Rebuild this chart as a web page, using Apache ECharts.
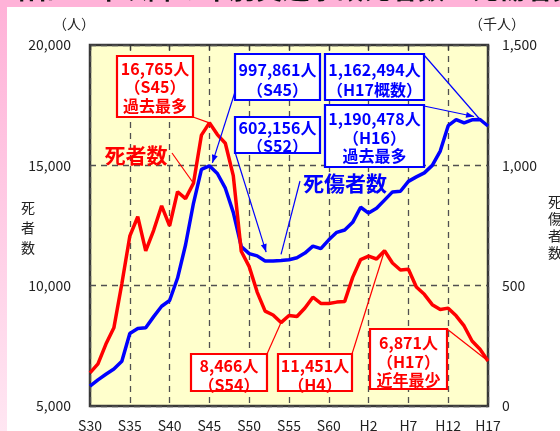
<!DOCTYPE html>
<html><head><meta charset="utf-8">
<script src="https://cdn.jsdelivr.net/npm/echarts@6/dist/echarts.min.js"></script>
<style>
html,body{margin:0;padding:0;width:560px;height:431px;overflow:hidden;}
#wrap{position:relative;width:560px;height:431px;background:#FFB2D8;}
#strip{position:absolute;left:0;top:7px;width:7px;bottom:0;background:linear-gradient(to bottom,#FFB2D8,#FFE6F2);}
#panel{position:absolute;left:7px;top:7px;right:0;bottom:0;background:#fff;}
#chart{position:absolute;left:0;top:0;width:560px;height:431px;}
</style></head>
<body><div id="wrap"><div id="strip"></div><div id="panel"></div><div id="chart"></div></div>
<script>
// ---- data ----
const years = ['S30','S31','S32','S33','S34','S35','S36','S37','S38','S39','S40','S41','S42','S43','S44','S45','S46','S47','S48','S49','S50','S51','S52','S53','S54','S55','S56','S57','S58','S59','S60','S61','S62','S63','H1','H2','H3','H4','H5','H6','H7','H8','H9','H10','H11','H12','H13','H14','H15','H16','H17'];
// 死者数 (人)
const deaths = [6379,6751,7575,8248,10079,12055,12865,11445,12301,13318,12484,13904,13618,14256,16257,16765,16278,15918,14574,11432,10792,9734,8945,8783,8466,8760,8719,9073,9520,9262,9261,9317,9347,10344,11086,11227,11109,11451,10942,10649,10684,9942,9640,9211,9006,9066,8747,8326,7702,7358,6871];
// 死傷者数 (千人)
const casualties = [82.9,108.8,132.1,153.7,186.0,301.2,321.6,325.3,371.4,414.4,438.2,531.7,669.0,842.3,983.3,997.9,966.0,905.1,804.5,662.9,633.3,623.7,602.2,602.9,604.7,607.5,616.1,635.3,664.3,653.6,690.6,721.6,731.5,763.2,825.9,801.5,821.4,855.5,889.6,892.4,933.4,952.1,968.6,999.9,1059.4,1164.8,1189.8,1176.4,1189.1,1190.5,1163.5];
const leftTicks = {min:5000, max:20000, step:5000};
const rightTicks = {min:0, max:1500, step:500};

const FONT = '"Noto Sans CJK JP", sans-serif';
const RED = '#FF0000', BLUE = '#0000FF';
const chart = echarts.init(document.getElementById('chart'), null, {renderer:'canvas'});
const fmt = v => Number(v).toLocaleString('en-US');

chart.setOption({
  animation:false,
  grid:{left:90,right:72,top:45,bottom:25,show:true,backgroundColor:'#FFFFCC',borderColor:'#383838',borderWidth:2.5,containLabel:false,outerBoundsMode:'none'},
  xAxis:[
    {type:'category',data:years,boundaryGap:false,position:'bottom',
     axisLine:{show:false},axisTick:{show:false},
     axisLabel:{interval:4,margin:13,fontSize:14,color:'#222',fontFamily:FONT},
     splitLine:{show:true,interval:4,lineStyle:{color:'#505050',width:1.3,type:[6,5]}}},
    {type:'category',data:years,boundaryGap:false,position:'top',
     axisLine:{show:false},axisTick:{show:true,inside:true,interval:4,length:5,lineStyle:{color:'#383838',width:1.3}},
     axisLabel:{show:false},splitLine:{show:false}}
  ],
  yAxis:[
    {type:'value',min:leftTicks.min,max:leftTicks.max,interval:leftTicks.step,position:'left',
     axisLine:{show:false},axisTick:{show:false},
     axisLabel:{formatter:fmt,margin:19,fontSize:14,color:'#222',fontFamily:FONT},
     splitLine:{show:true,lineStyle:{color:'#505050',width:1.3,type:[6,5]}}},
    {type:'value',min:rightTicks.min,max:rightTicks.max,interval:rightTicks.step,position:'right',
     axisLine:{show:false},axisTick:{show:false},
     axisLabel:{formatter:fmt,margin:14,fontSize:14,color:'#222',fontFamily:FONT},
     splitLine:{show:false}}
  ],
  series:[
    {name:'死傷者数',type:'line',data:casualties,xAxisIndex:0,yAxisIndex:1,showSymbol:false,
     lineStyle:{color:BLUE,width:3.5},itemStyle:{color:BLUE},z:2},
    {name:'死者数',type:'line',data:deaths,xAxisIndex:0,yAxisIndex:0,showSymbol:false,
     lineStyle:{color:RED,width:3.5},itemStyle:{color:RED},z:3}
  ]
});

// ---- annotations (layout) ----
const boxes = [
  {x:117,y:56,w:76,h:61,c:RED,lines:['16,765人','（S45）','過去最多'],ys:[69,87,106]},
  {x:235,y:54,w:85,h:46,c:BLUE,lines:['997,861人','（S45）'],ys:[70,90]},
  {x:235,y:117,w:85,h:36,c:BLUE,lines:['602,156人','（S52）'],ys:[128,146]},
  {x:325,y:54,w:99,h:46,c:BLUE,lines:['1,162,494人','（H17概数）'],ys:[70,90]},
  {x:325,y:105,w:99,h:62,c:BLUE,lines:['1,190,478人','（H16）','過去最多'],ys:[119,137.5,156]},
  {x:191,y:354,w:76,h:37,c:RED,lines:['8,466人','（S54）'],ys:[366,384.5]},
  {x:278,y:354,w:74,h:37,c:RED,lines:['11,451人','（H4）'],ys:[366,384.5]},
  {x:370,y:329,w:77,h:60,c:RED,lines:['6,871人','（H17）','近年最少'],ys:[343,361.5,380]}
];
// leader lines: from pixel start to a data point (axis 0 = deaths/left axis, 1 = casualties/right axis)
const leaders = [
  {from:[193,117],axis:0,i:15,c:RED},
  {from:[172,153],axis:0,i:13,c:RED},
  {from:[235,92],axis:1,i:15,c:BLUE,arrow:true,off:[3,-3]},
  {from:[235,152],axis:1,i:22,c:BLUE,arrow:true,off:[1,-9]},
  {from:[424,55],axis:1,i:49,c:BLUE},
  {from:[424,106],axis:1,i:49,c:BLUE,arrow:true,off:[-6,-3]},
  {from:[300,181],axis:1,i:24,c:BLUE,off:[0,-6]},
  {from:[267,354],axis:0,i:24,c:RED},
  {from:[352,354],axis:0,i:37,c:RED},
  {from:[447,329],axis:0,i:50,c:RED}
];

const g = [];
g.push({type:'text',z:50,style:{text:'昭和30年以降の年別交通事故死者数・死傷者数の推移（交通事故死傷）',x:8,y:-25,font:'bold 27px '+FONT,fill:'#111',textVerticalAlign:'top'}});
g.push({type:'rect',z:49,shape:{x:7,y:7,width:553,height:6},style:{fill:'#fff'}});
g.push({type:'text',z:50,style:{text:'（人）',x:74,y:24,font:'14px '+FONT,fill:'#222',textAlign:'center',textVerticalAlign:'middle'}});
g.push({type:'text',z:50,style:{text:'（千人）',x:497,y:24,font:'14px '+FONT,fill:'#222',textAlign:'center',textVerticalAlign:'middle'}});
g.push({type:'text',z:50,style:{text:'死\n者\n数',x:28,y:228,font:'14px '+FONT,lineHeight:20,fill:'#222',textAlign:'center',textVerticalAlign:'middle'}});
g.push({type:'text',z:50,style:{text:'死\n傷\n者\n数',x:555,y:227,font:'14px '+FONT,lineHeight:17,fill:'#222',textAlign:'center',textVerticalAlign:'middle'}});
g.push({type:'text',z:50,style:{text:'死者数',x:136,y:155,font:'bold 21px '+FONT,fill:RED,textAlign:'center',textVerticalAlign:'middle'}});
g.push({type:'text',z:50,style:{text:'死傷者数',x:345,y:183,font:'bold 21px '+FONT,fill:BLUE,textAlign:'center',textVerticalAlign:'middle'}});

leaders.forEach(L => {
  const val = L.axis === 0 ? deaths[L.i] : casualties[L.i];
  const p = chart.convertToPixel({xAxisIndex:0,yAxisIndex:L.axis},[L.i,val]);
  const off = L.off || [0,0];
  const tx = p[0]+off[0], ty = p[1]+off[1];
  g.push({type:'line',z:40,shape:{x1:L.from[0],y1:L.from[1],x2:tx,y2:ty},style:{stroke:L.c,lineWidth:1.2}});
  if (L.arrow) {
    const dx = tx-L.from[0], dy = ty-L.from[1], len = Math.hypot(dx,dy);
    const ux = dx/len, uy = dy/len, px = -uy, py = ux;
    const bx = tx-ux*8, by = ty-uy*8;
    g.push({type:'polygon',z:41,shape:{points:[[tx,ty],[bx+px*3,by+py*3],[bx-px*3,by-py*3]]},style:{fill:L.c}});
  }
});
boxes.forEach(b => {
  g.push({type:'rect',z:45,shape:{x:b.x,y:b.y,width:b.w,height:b.h},style:{fill:'#fff',stroke:b.c,lineWidth:2.2}});
  b.lines.forEach((t,k) => {
    g.push({type:'text',z:46,style:{text:t,x:b.x+b.w/2,y:b.ys[k],font:'bold 16px '+FONT,fill:b.c,textAlign:'center',textVerticalAlign:'middle'}});
  });
});
chart.setOption({graphic:{elements:g}});
</script></body></html>
